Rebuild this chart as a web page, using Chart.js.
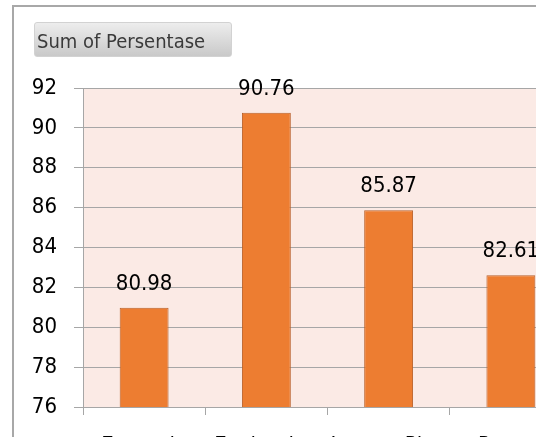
<!DOCTYPE html>
<html>
<head>
<meta charset="utf-8">
<title>Sum of Persentase</title>
<script src="https://cdn.jsdelivr.net/npm/chart.js@4.4.0/dist/chart.umd.min.js"></script>
<style>
  html, body { margin: 0; padding: 0; background: #fff; overflow: hidden; }
  #wrap { position: relative; width: 536px; height: 437px; overflow: hidden; }
  /* outer chart frame, cut off on the right and bottom like the screenshot */
  #frame {
    position: absolute; left: 12px; top: 5px; width: 700px; height: 600px;
    border-left: 2px solid #a8a8a8; border-top: 2px solid #a8a8a8;
  }
  #sales-chart { position: absolute; left: 0; top: 0; }
  /* pivot field button */
  #field-button {
    position: absolute; left: 34px; top: 22px; width: 194px; height: 33px;
    border: 1px solid #d2d2d2; border-radius: 3px;
    background: linear-gradient(#ededed, #c9c9c9);
    font-family: 'DejaVu Sans Condensed', 'DejaVu Sans', sans-serif; font-size: 20px; color: #3a3a3a;
    line-height: 36px; padding-left: 2px; box-sizing: content-box; white-space: nowrap;
  }
</style>
</head>
<body>
<div id="wrap">
  <div id="frame"></div>
  <canvas id="sales-chart" width="600" height="470"></canvas>
  <div id="field-button">Sum of Persentase</div>
</div>
<script>
// Categories on the x axis
const categories = ['Example', 'Evaluation', 'Lesson Plan', 'Report'];

// Sum of Persentase per category
const percentValues = [80.98, 90.76, 85.87, 82.61];

// Y axis tick labels
const yTickValues = [76, 78, 80, 82, 84, 86, 88, 90, 92];

const fontFamily = "'DejaVu Sans Condensed', 'DejaVu Sans', sans-serif";
const gridGray = '#a6a6a6';

// Fill the plot area with the pale pink background
const plotBackground = {
  id: 'plotBackground',
  beforeDraw(chart) {
    const { ctx, chartArea } = chart;
    ctx.save();
    ctx.fillStyle = '#fbeae5';
    ctx.fillRect(chartArea.left, chartArea.top, chartArea.right - chartArea.left, chartArea.bottom - chartArea.top);
    ctx.restore();
  }
};

// Write each value above its bar
const valueLabels = {
  id: 'valueLabels',
  afterDatasetsDraw(chart) {
    const { ctx } = chart;
    const meta = chart.getDatasetMeta(0);
    ctx.save();
    ctx.font = '22px ' + fontFamily;
    ctx.fillStyle = '#000';
    ctx.textAlign = 'center';
    ctx.textBaseline = 'alphabetic';
    meta.data.forEach((bar, i) => {
      ctx.fillText(percentValues[i].toFixed(2), bar.x, bar.y - 18);
    });
    ctx.restore();
  }
};

const ctx = document.getElementById('sales-chart').getContext('2d');

const chart = new Chart(ctx, {
  type: 'bar',
  data: {
    labels: categories,
    datasets: [{
      label: 'Sum of Persentase',
      data: percentValues,
      backgroundColor: '#ed7d31',
      borderColor: '#b9612b',
      borderWidth: 1,
      categoryPercentage: 1,
      barPercentage: 0.4
    }]
  },
  options: {
    responsive: false,
    animation: false,
    layout: {
      padding: { top: 88, left: 0, right: 28, bottom: 0 }
    },
    scales: {
      y: {
        min: yTickValues[0],
        max: yTickValues[yTickValues.length - 1],
        afterFit: scale => { scale.width = 83; },
        afterBuildTicks: scale => { scale.ticks = yTickValues.map(v => ({ value: v })); },
        ticks: {
          padding: 17,
          color: '#000',
          font: { size: 22, family: fontFamily }
        },
        grid: {
          color: gridGray,
          lineWidth: 1,
          tickLength: 9
        },
        border: { color: gridGray, width: 1 }
      },
      x: {
        afterFit: scale => { scale.height = 470 - 407; },
        ticks: {
          padding: 18,
          color: '#000',
          maxRotation: 0,
          autoSkip: false,
          font: { size: 22, family: fontFamily }
        },
        grid: {
          color: gridGray,
          drawOnChartArea: false,
          tickLength: 8
        },
        border: { color: gridGray, width: 1 }
      }
    },
    plugins: {
      legend: { display: false },
      tooltip: { enabled: false }
    }
  },
  plugins: [plotBackground, valueLabels]
});
</script>
</body>
</html>
